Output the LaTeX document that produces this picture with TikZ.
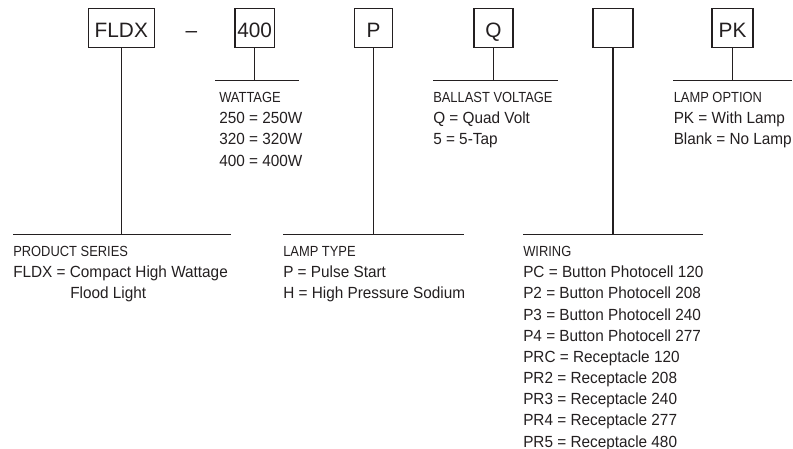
\documentclass[tikz,border=0pt]{standalone}
\usepackage{fontspec}
\setmainfont{Liberation Sans}
\newfontfamily\ttlfont[FakeStretch=0.88]{Liberation Sans}
\newfontfamily\valfont[FakeStretch=0.95]{Liberation Sans}
\definecolor{ink}{HTML}{231F20}
\tikzset{
  box/.style={draw=ink, line width=0.8pt, minimum height=29.25pt, inner sep=0pt,
    text height=15.3pt, text depth=0pt, font=\fontsize{15.6}{18}\selectfont, text=ink},
  ttl/.style={anchor=base west, inner sep=0pt, font=\ttlfont\fontsize{11}{13}\selectfont, text=ink},
  val/.style={anchor=base west, inner sep=0pt, font=\valfont\fontsize{12.1}{14}\selectfont, text=ink},
  lnk/.style={draw=ink, line width=0.8pt}
}
\begin{document}
\begin{tikzpicture}[x=0.75pt,y=-0.75pt]
\useasboundingbox (0,0) rectangle (793,449);
% code boxes
\node[box, minimum width=49.5pt] (fldx) at (121.3,27.8) {FLDX};
\node[box, minimum width=29.6pt] (watt) at (254.7,27.8) {400};
\node[box, minimum width=28.1pt] (ltype) at (373.5,27.8) {P};
\node[box, minimum width=29.25pt] (ballast) at (493.5,27.8) {Q};
\node[box, minimum width=30pt] (wiring) at (613,27.8) {};
\node[box, minimum width=30.75pt] (lopt) at (732.5,27.8) {PK};
\node[anchor=base, inner sep=0pt, font=\fontsize{15.6}{18}\selectfont, text=ink] (dash) at (191.5,38) {–};
% bars
\coordinate (sL) at (13,234.3);  \coordinate (sR) at (231,234.3);
\coordinate (wL) at (215,80.7);  \coordinate (wR) at (299,80.7);
\coordinate (tL) at (283,234.3); \coordinate (tR) at (464,234.3);
\coordinate (bL) at (433,80.7);  \coordinate (bR) at (558,80.7);
\coordinate (iL) at (523,234.3); \coordinate (iR) at (703,234.3);
\coordinate (oL) at (673,80.7);  \coordinate (oR) at (792,80.7);
\draw[lnk] (sL) -- (sR);  \draw[lnk] (fldx.south) -- (fldx.south |- sL);
\draw[lnk] (wL) -- (wR);  \draw[lnk] (watt.south) -- (watt.south |- wL);
\draw[lnk] (tL) -- (tR);  \draw[lnk] (ltype.south) -- (ltype.south |- tL);
\draw[lnk] (bL) -- (bR);  \draw[lnk] (ballast.south) -- (ballast.south |- bL);
\draw[lnk] (iL) -- (iR);  \draw[lnk] (wiring.south) -- (wiring.south |- iL);
\draw[lnk] (oL) -- (oR);  \draw[lnk] (lopt.south) -- (lopt.south |- oL);
% product series
\node[ttl] (s0) at (13,256.8) {PRODUCT SERIES};
\node[val] (s1) at (13,277.8) {FLDX = Compact High Wattage};
\node[val] (s2) at (70,298.95) {Flood Light};
% wattage
\node[ttl] (w0) at (219,102.2) {WATTAGE};
\node[val] (w1) at (219,123.85) {250 = 250W};
\node[val] (w2) at (219,145) {320 = 320W};
\node[val] (w3) at (219,166.15) {400 = 400W};
% lamp type
\node[ttl] (t0) at (283,256.8) {LAMP TYPE};
\node[val] (t1) at (283,277.8) {P = Pulse Start};
\node[val] (t2) at (283,298.95) {H = High Pressure Sodium};
% ballast
\node[ttl] (b0) at (433,102.2) {BALLAST VOLTAGE};
\node[val] (b1) at (433,123.85) {Q = Quad Volt};
\node[val] (b2) at (433,145) {5 = 5-Tap};
% wiring
\node[ttl] (i0) at (523,256.8) {WIRING};
\foreach \t [count=\i] in {PC = Button Photocell 120, P2 = Button Photocell 208,
  P3 = Button Photocell 240, P4 = Button Photocell 277, PRC = Receptacle 120,
  PR2 = Receptacle 208, PR3 = Receptacle 240, PR4 = Receptacle 277, PR5 = Receptacle 480}
  \node[val] (i\i) at (523,{256.65+21.15*\i}) {\t};
% lamp option
\node[ttl] (o0) at (673.5,102.2) {LAMP OPTION};
\node[val] (o1) at (673.5,123.85) {PK = With Lamp};
\node[val] (o2) at (673.5,145) {Blank = No Lamp};
\end{tikzpicture}
\end{document}
